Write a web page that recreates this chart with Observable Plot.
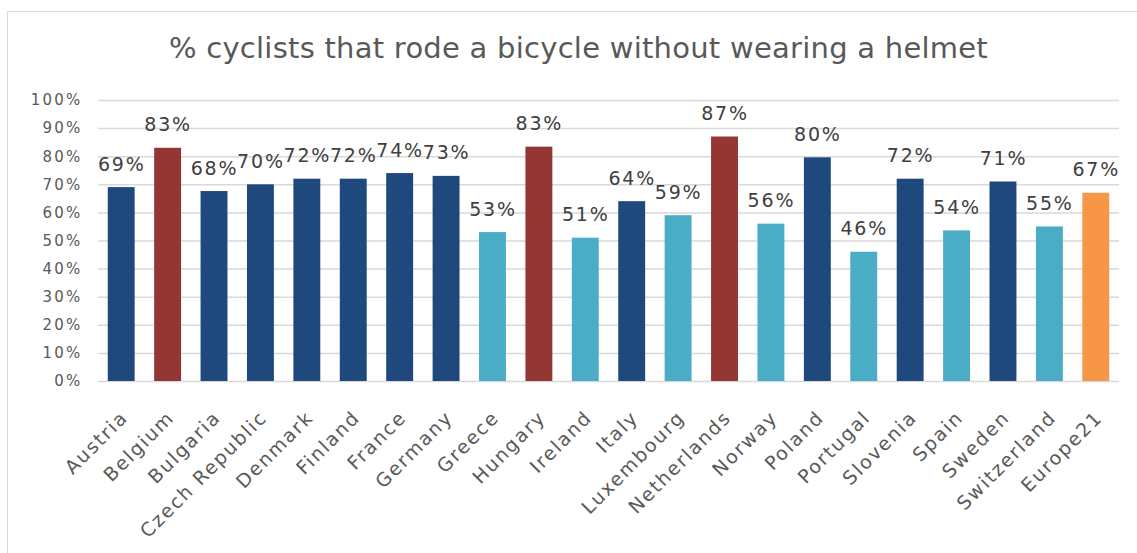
<!DOCTYPE html>
<html>
<head>
<meta charset="utf-8">
<script src="https://cdn.jsdelivr.net/npm/d3@7"></script>
<script src="https://cdn.jsdelivr.net/npm/@observablehq/plot@0.6"></script>
<style>
  html, body { margin: 0; padding: 0; background: #fff; }
  body { width: 1137px; height: 553px; position: relative; overflow: hidden; font-family: "DejaVu Sans", Verdana, sans-serif; }
  #frame { position: absolute; left: 7px; top: 11px; width: 1140px; height: 560px; border: 1px solid #d9d9d9; box-sizing: border-box; }
  #title { position: absolute; left: 0; width: 1157px; top: 29px; text-align: center; font-size: 29px; letter-spacing: 0.25px; color: #595959; line-height: 38px; white-space: nowrap; }
  #chart { position: absolute; left: 0; top: 80px; }
  #chart svg text.ls-y { letter-spacing: 2.2px; }
  #chart svg text.ls-v { letter-spacing: 1.8px; }
  #chart svg text.ls-x { letter-spacing: 1.8px; }
</style>
</head>
<body>
<div id="frame"></div>
<div id="title">% cyclists that rode a bicycle without wearing a helmet</div>
<div id="chart"></div>
<script>
const countries = ["Austria","Belgium","Bulgaria","Czech Republic","Denmark","Finland","France","Germany","Greece","Hungary","Ireland","Italy","Luxembourg","Netherlands","Norway","Poland","Portugal","Slovenia","Spain","Sweden","Switzerland","Europe21"];
const values = [69, 83, 67.6, 70, 72, 72, 74, 73, 53, 83.4, 51, 64, 59, 87, 56, 79.6, 46, 72, 53.6, 71, 55, 67];
const groups = ["dark","red","dark","dark","dark","dark","dark","dark","light","red","light","dark","light","red","light","dark","light","dark","light","dark","light","europe"];
const groupNames = ["dark","red","light","europe"];
const groupColors = ["#1f497d","#943634","#4bacc6","#f79646"];
const yTicks = [0,10,20,30,40,50,60,70,80,90,100];

const data = countries.map((c, i) => ({country: c, value: values[i], group: groups[i]}));

const chart = Plot.plot({
  width: 1137,
  height: 473,
  marginTop: 20,
  marginBottom: 172,
  marginLeft: 98,
  marginRight: 18,
  style: {fontFamily: "DejaVu Sans, Verdana, sans-serif", background: "transparent"},
  x: {domain: countries, paddingInner: 0.42, paddingOuter: 0.21, round: false, axis: null},
  y: {domain: [0, 100], axis: null},
  color: {domain: groupNames, range: groupColors},
  marks: [
    Plot.ruleY(yTicks, {stroke: "#d9d9d9", strokeWidth: 1.5}),
    Plot.text(yTicks, {frameAnchor: "left", y: d => d, text: d => d + "%", textAnchor: "end", dx: -16, fontSize: 15, fill: "#595959", ariaLabel: "ytick"}),
    Plot.barY(data, {x: "country", y: "value", fill: "group"}),
    Plot.text(data, {x: "country", y: "value", text: d => Math.round(d.value) + "%", dy: -23, fontSize: 19, fill: "#404040", ariaLabel: "vlabel"}),
    Plot.text(data, {x: "country", y: 0, text: "country", rotate: -45, textAnchor: "end", dx: 3, dy: 33, fontSize: 19, fill: "#595959", ariaLabel: "xlabel"})
  ]
});
// widen the glyph spacing like the reference's rendering
d3.select(chart).selectAll("text").each(function () {
  const fs = this.parentNode.getAttribute("font-size") || this.getAttribute("font-size");
  if (fs == "15") this.classList.add("ls-y");
  else if (fs == "19") this.classList.add("ls-v");
});
document.getElementById("chart").appendChild(chart);
</script>
</body>
</html>
